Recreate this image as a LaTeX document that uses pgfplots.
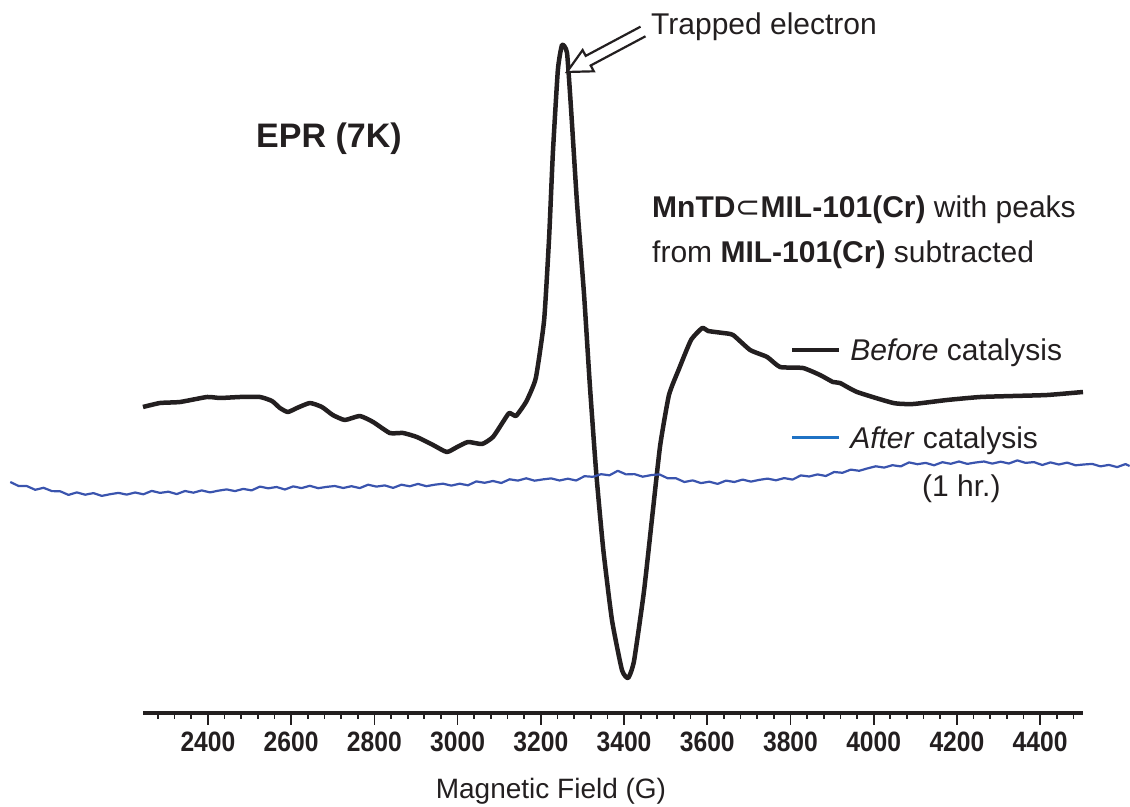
\documentclass[border=0pt]{standalone}
\usepackage{pgfplots}
\pgfplotsset{compat=1.18}
\usepackage{fontspec}
\setmainfont{Liberation Sans}
\newfontfamily\condfont[FakeStretch=0.88]{Liberation Sans}
\newfontfamily\symfont{DejaVu Sans}
\definecolor{curveblue}{HTML}{3A54AE}
\definecolor{legblue}{HTML}{1F72C4}
\definecolor{ink}{HTML}{231F20}
\begin{document}
\begin{tikzpicture}
\path[use as bounding box] (0pt,0pt) rectangle (1130pt,806pt);
\begin{axis}[
  at={(143pt,93pt)}, anchor=south west,
  scale only axis, width=940pt, height=713pt,
  xmin=2244, xmax=4503, ymin=0, ymax=713,
  clip=false,
  axis x line*=bottom, axis y line=none,
  separate axis lines,
  every outer x axis line/.append style={line width=3.5pt, -, ink},
  xtick={2400,2600,...,4400},
  minor xtick={2280,2320,...,4480},
  tick align=outside,
  major tick length=12pt, minor tick length=6pt,
  every tick/.style={ink, line width=1.7pt},
  xticklabel style={font=\condfont\bfseries\fontsize{28}{28}\selectfont, anchor=base, yshift=-26pt, text=ink},
  /pgf/number format/assume math mode=true,
  /pgf/number format/set thousands separator={},
  xlabel={Magnetic Field (G)},
  xlabel style={at={(axis description cs:0.434,0)}, anchor=base, yshift=-85pt, font=\fontsize{28}{28}\selectfont, text=ink},
  legend style={at={(axis cs:3799,381)}, anchor=north west, draw=none, fill=none, inner sep=0pt, row sep=53pt, column sep=9pt, font=\fontsize{30}{30}\selectfont, nodes={inner sep=0pt, text height=28pt, text depth=7pt, text=ink}},
  legend cell align=left,
  legend image code/.code={\draw[#1] (0pt,0pt) -- (47pt,0pt);},
]
\addplot[ink, line width=4.5pt, smooth, tension=0.3, line join=round, forget plot] table {
2244 306
2285 310
2333 311
2398 316
2429 315
2477 316
2525 316
2554 312
2573 305
2592 301
2614 305
2645 310
2674 306
2700 298
2729 293
2765 297
2797 291
2837 280
2869 280
2902 276
2941 268
2974 261
2999 266
3025 271
3059 269
3085 276
3109 291
3124 300
3140 297
3155 305
3167 313
3188 335
3208 393
3220 476
3229 560
3241 643
3251 668
3263 660
3273 602
3287 510
3304 418
3318 327
3333 241
3350 164
3371 93
3395 43
3410 35
3424 52
3448 122
3470 205
3487 268
3508 318
3532 344
3561 373
3588 385
3602 382
3638 380
3662 378
3703 363
3744 356
3775 346
3830 345
3871 338
3902 331
3919 330
3960 321
4047 310
4095 309
4176 313
4256 316
4335 317
4417 318
4503 321
};
\addplot[curveblue, line width=2.2pt, line join=round, forget plot] table {
1925 231
1945 227
1965 226.9
1985 223.2
2005 225.2
2025 221.9
2045 221.7
2065 218.1
2085 220.6
2105 218.3
2125 219.9
2145 217.1
2165 218.8
2185 220.1
2205 218.4
2225 220.5
2245 218.7
2265 222.1
2285 220.1
2305 221.3
2325 218.9
2345 222
2365 220.3
2385 222.6
2405 220.6
2425 222.3
2445 223.6
2465 221.9
2485 224.1
2505 222.6
2525 226.4
2545 224.7
2565 226
2585 223.5
2605 226.6
2625 224.9
2645 227.2
2665 224.8
2685 226.1
2705 227
2725 225
2745 226.8
2765 224.9
2785 228.3
2805 226.4
2825 227.6
2845 225.1
2865 228.3
2885 226.7
2905 229.1
2925 226.8
2945 228.3
2965 229.3
2985 227.4
3005 229.3
3025 227.7
3045 231.6
3065 230.2
3085 232
3105 230
3125 233.7
3145 232.4
3165 234.7
3185 232.3
3205 233.6
3225 234.6
3245 232.5
3265 234.3
3285 232.5
3305 236.8
3325 236.2
3345 238.8
3365 237.7
3385 242.2
3405 238.6
3425 238.9
3445 236.3
3465 237.9
3485 238.6
3505 234.7
3525 234.7
3545 231
3565 232.6
3585 229.9
3605 231.3
3625 229.1
3645 232.4
3665 231
3685 233.4
3705 231.4
3725 233.1
3745 234.4
3765 232.7
3785 234.9
3805 233.4
3825 237.6
3845 236.5
3865 238.6
3885 237
3905 241
3925 240.2
3945 243.4
3965 242.2
3985 244.6
4005 246.7
4025 245.4
4045 247.8
4065 246.6
4085 250.6
4105 248.8
4125 250.1
4145 247.7
4165 250.8
4185 249.2
4205 251.5
4225 249.1
4245 250.5
4265 251.5
4285 249.4
4305 251.3
4325 249.5
4345 252.6
4365 250.1
4385 250.9
4405 248
4425 250.6
4445 248.5
4465 250.4
4485 247.7
4505 248.5
4525 249.1
4545 246.6
4565 248.1
4585 245.9
4605 248.9
4615 247
};
\addlegendimage{ink, line width=4pt}
\addlegendentry{\textit{Before} catalysis}
\addlegendimage{legblue, line width=3pt}
\addlegendentry{\textit{After} catalysis}
\end{axis}
\node[anchor=base west, inner sep=0pt, text=ink, font=\bfseries\fontsize{34}{34}\selectfont] at (256pt,658pt) {EPR (7K)};
\node[anchor=base west, inner sep=0pt, text=ink, font=\fontsize{30}{30}\selectfont] at (651pt,771pt) {Trapped electron};
\node[anchor=base west, inner sep=0pt, text=ink, font=\fontsize{30}{30}\selectfont] at (652pt,588pt) {\textbf{MnTD{\symfont\mdseries ⊂}MIL-101(Cr)} with peaks};
\node[anchor=base west, inner sep=0pt, text=ink, font=\fontsize{30}{30}\selectfont] at (652pt,543pt) {from \textbf{MIL-101(Cr)} subtracted};
\node[anchor=base west, inner sep=0pt, text=ink, font=\fontsize{30}{30}\selectfont] at (922pt,309pt) {(1 hr.)};
\draw[ink, line width=2.2pt, fill=white, line join=miter] (640.5pt,779.3pt) -- (585.7pt,750.1pt) -- (582.6pt,755.9pt) -- (567pt,734pt) -- (593.8pt,734.7pt) -- (590.7pt,740.5pt) -- (645.5pt,769.7pt);
\end{tikzpicture}
\end{document}
